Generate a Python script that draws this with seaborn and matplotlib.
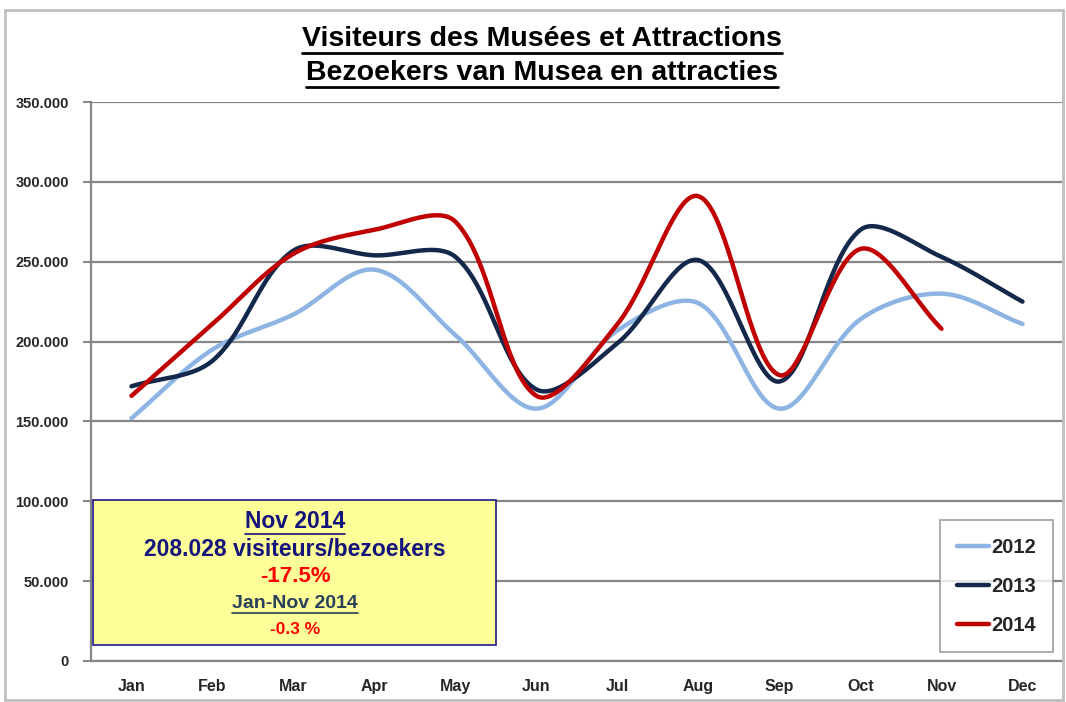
import numpy as np
import pandas as pd
import matplotlib
matplotlib.use("Agg")
import matplotlib.pyplot as plt
import seaborn as sns
from matplotlib.lines import Line2D
from matplotlib.patches import Rectangle

months = ["Jan", "Feb", "Mar", "Apr", "May", "Jun", "Jul", "Aug", "Sep", "Oct", "Nov", "Dec"]
v2012 = [152000, 195000, 217000, 245000, 204000, 158000, 207000, 224000, 158000, 214000, 230000, 211000]
v2013 = [172000, 188000, 257000, 254000, 253000, 170000, 199000, 251000, 175000, 270000, 253000, 225000]
v2014 = [166000, 211000, 255000, 270000, 275000, 166000, 211000, 291000, 179000, 258000, 208028]
series = {"2012": v2012, "2013": v2013, "2014": v2014}
colors = {"2012": "#8DB4E2", "2013": "#14284B", "2014": "#C00000"}
yticks = [0, 50000, 100000, 150000, 200000, 250000, 300000, 350000]

sns.set_style("white")
plt.rcParams["font.family"] = ["Liberation Sans", "DejaVu Sans"]


def smooth(vals, n=40, sx=81.0, sy=559.0 / 350000):
    # excel style smoothed line: bezier segments, control points scaled by chord length
    y = np.asarray(vals, dtype=float)
    P = np.column_stack([np.arange(len(y)) * sx, y * sy])
    P = np.vstack([P[0], P, P[-1]])
    t = np.linspace(0, 1, n)[:, None]
    out = []
    for i in range(len(y) - 1):
        p0, p1, p2, p3 = P[i:i + 4]
        d01 = np.linalg.norm(p1 - p0)
        d12 = np.linalg.norm(p2 - p1)
        d23 = np.linalg.norm(p3 - p2)
        c1 = p1 + (p2 - p0) * d12 / (3 * (d01 + d12))
        c2 = p2 - (p3 - p1) * d12 / (3 * (d12 + d23))
        seg = (1 - t) ** 3 * p1 + 3 * (1 - t) ** 2 * t * c1 + 3 * (1 - t) * t ** 2 * c2 + t ** 3 * p2
        out.append(seg)
    out = np.vstack(out)
    return out[:, 0] / sx, out[:, 1] / sy


rows = []
for year, vals in series.items():
    px, py = smooth(vals)
    rows.append(pd.DataFrame({"x": px, "y": py, "year": year}))
df = pd.concat(rows, ignore_index=True)

fig = plt.figure(figsize=(10.66, 7.02), dpi=100)
ax = fig.add_axes([91 / 1066, 1 - 661 / 702, (1063 - 91) / 1066, (661 - 102) / 702])

sns.lineplot(data=df, x="x", y="y", hue="year", palette=colors, sort=False,
             estimator=None, linewidth=3.2, ax=ax, legend=False, zorder=3)

ax.set_xlim(-0.5, 11.5)
ax.set_ylim(0, 350000)
ax.set_yticks(yticks)
ax.set_yticklabels([f"{v:,.0f}".replace(",", ".") for v in yticks],
                   fontsize=10.5, fontweight="bold")
ax.set_xticks(range(12))
ax.set_xticklabels(months, fontsize=11.5, fontweight="bold")
ax.set_xticks(np.arange(-0.5, 12, 1), minor=True)
ax.tick_params(axis="x", which="major", length=0, pad=13)
ax.tick_params(axis="x", which="minor", length=6, color="#868686", width=1.4, direction="out")
ax.tick_params(axis="y", length=6, color="#868686", width=1.4, direction="out", pad=10, left=True)
ax.set_xlabel("")
ax.set_ylabel("")
ax.grid(axis="y", color="#868686", linewidth=1.6)
ax.set_axisbelow(True)
for s in ["top", "right"]:
    ax.spines[s].set_visible(False)
for s in ["left", "bottom"]:
    ax.spines[s].set_color("#868686")
    ax.spines[s].set_linewidth(1.6)

# legend
handles = [Line2D([0], [0], color=colors[y], lw=3.2) for y in series]
leg = ax.legend(handles, list(series), loc="lower right",
                bbox_to_anchor=((1053 - 91) / 972, 9 / 559), borderaxespad=0,
                frameon=True, fancybox=False, handlelength=1.6, handletextpad=0.1,
                labelspacing=1.0, borderpad=0.85, prop={"weight": "bold", "size": 14.5})
leg.get_frame().set_edgecolor("#868686")
leg.get_frame().set_linewidth(1.2)

# info box
fig.patches.append(Rectangle((93 / 1066, 1 - 645 / 702), (496 - 93) / 1066, (645 - 500) / 702,
                             transform=fig.transFigure, facecolor="#FFFF99",
                             edgecolor="#1A1A8C", linewidth=1.2, zorder=5))
bx = 295 / 1066
box_texts = [
    ("Nov 2014", 521, "#14147A", 16.5, True),
    ("208.028 visiteurs/bezoekers", 549, "#14147A", 16.5, False),
    ("-17.5%", 576, "#FF0000", 16, False),
    ("Jan-Nov 2014", 603, "#28405A", 14, True),
    ("-0.3 %", 629, "#FF0000", 12.5, False),
]
underlined = []
for txt, ypx, col, fs, ul in box_texts:
    t = fig.text(bx, 1 - ypx / 702, txt, ha="center", va="center", color=col,
                 fontsize=fs, fontweight="bold", zorder=6)
    if ul:
        underlined.append((t, col))

# title
for txt, ypx in [("Visiteurs des Musées et Attractions", 39), ("Bezoekers van Musea en attracties", 73)]:
    t = fig.text(542 / 1066, 1 - ypx / 702, txt, ha="center", va="center",
                 fontsize=20.5, fontweight="bold", color="black",
                 family=["Liberation Sans Narrow", "Liberation Sans", "DejaVu Sans"])
    underlined.append((t, "black"))

# outer frame
fig.patches.append(Rectangle((5 / 1066, 2 / 702), 1058 / 1066, 690 / 702, transform=fig.transFigure,
                             fill=False, edgecolor="#BFBFBF", linewidth=2))

# underline texts
fig.canvas.draw()
r = fig.canvas.get_renderer()
for t, col in underlined:
    bb = t.get_window_extent(r)
    yline = bb.y0 - 1
    fig.add_artist(Line2D([bb.x0 / 1066, bb.x1 / 1066], [yline / 702, yline / 702],
                          transform=fig.transFigure, color=col, linewidth=2 if col == "black" else 1.2,
                          zorder=6))

fig.savefig("out.png", dpi=100)
